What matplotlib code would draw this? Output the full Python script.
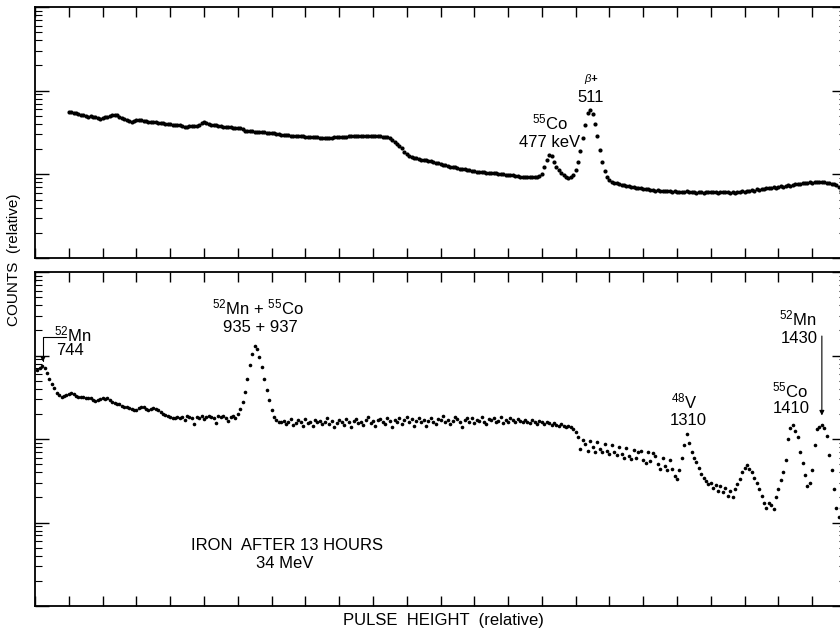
import numpy as np
import matplotlib
matplotlib.use("Agg")
import matplotlib.pyplot as plt
from matplotlib.ticker import FixedLocator, LogLocator, NullLocator, NullFormatter

plt.rcParams['font.family'] = ['Liberation Sans', 'DejaVu Sans']
plt.rcParams['mathtext.fontset'] = 'custom'
plt.rcParams['mathtext.rm'] = 'Liberation Sans'
plt.rcParams['mathtext.it'] = 'Liberation Sans:italic'
plt.rcParams['mathtext.bf'] = 'Liberation Sans:bold'

# pulse-height channels: 14 channels between x ticks, 336 across the frame
n_channels = 336
tick_step = 14

# upper spectrum, counts (relative) per channel starting at channel 14
upper_start = 14
upper_counts = [
    560, 552, 545, 540, 528, 516, 505, 498, 488, 492, 485, 478, 470, 462, 470, 480, 488, 500, 510, 516,
    505, 490, 475, 462, 450, 438, 425, 432, 445, 450, 442, 436, 430, 425, 428, 425, 420, 415, 410, 412,
    403, 400, 398, 394, 392, 388, 392, 380, 370, 372, 376, 380, 381, 378, 392, 410, 425, 415, 402, 392,
    388, 385, 380, 375, 370, 368, 366, 364, 362, 360, 360, 356, 345, 332, 330, 333, 328, 325, 323, 322,
    320, 318, 316, 314, 314, 310, 305, 300, 297, 295, 294, 292, 290, 289, 288, 289, 287, 285, 283, 281,
    282, 280, 278, 276, 274, 275, 273, 274, 272, 274, 276, 278, 280, 281, 282, 283, 285, 287, 289, 288,
    290, 289, 287, 289, 290, 288, 289, 287, 285, 284, 283, 282, 281, 270, 258, 245, 232, 220, 208, 186,
    175, 166, 162, 158, 155, 152, 150, 149, 148, 146, 143, 140, 138, 137, 134, 131, 128, 126, 124, 123,
    121, 119, 117, 116, 115, 113, 112, 111, 110, 108, 107, 107, 106, 105, 105, 104, 104, 103, 102, 101,
    100, 99, 99, 98, 97, 96, 95, 94, 93, 94, 93, 92, 93, 94, 93, 95, 100, 123, 149, 171,
    165, 140, 124, 112, 104, 98, 93, 90, 94, 99, 112, 140, 190, 275, 392, 540, 592, 520, 400, 285,
    195, 140, 110, 94, 86, 81, 79, 78, 76, 75, 74, 73, 72, 71, 70, 69, 69, 68, 67, 66,
    66, 65, 65, 64, 65, 64, 63, 64, 63, 63, 62, 63, 62, 62, 61, 62, 63, 62, 61, 61,
    60, 61, 62, 60, 61, 62, 61, 62, 61, 60, 62, 61, 62, 61, 60, 61, 60, 62, 61, 63,
    62, 64, 63, 65, 64, 66, 65, 67, 66, 68, 69, 68, 70, 69, 71, 72, 71, 73, 74, 73,
    75, 76, 77, 76, 78, 79, 78, 80, 79, 81, 80, 82, 81, 80, 79, 78, 77, 76, 74, 70, 64, 58, 56,
]

# lower spectrum (iron after 13 hours, 34 MeV), starting at channel 1
lower_start = 1
lower_counts = [
    6700, 7100, 7500, 7000, 6170, 5300, 4560, 4080, 3600, 3370, 3180, 3250, 3370, 3480, 3560, 3450, 3300, 3200, 3180, 3150,
    3120, 3100, 3080, 2950, 2850, 2900, 3000, 3100, 3050, 3100, 2950, 2800, 2700, 2630, 2600, 2500, 2450, 2420, 2350, 2280,
    2220, 2250, 2350, 2420, 2400, 2300, 2250, 2300, 2350, 2290, 2200, 2100, 2000, 1940, 1900, 1850, 1800, 1780, 1820, 1780,
    1850, 1700, 1880, 1820, 1760, 1500, 1840, 1800, 1870, 1750, 1830, 1900, 1850, 1790, 1550, 1860, 1820, 1900, 1780, 1650,
    1840, 1900, 1800, 2000, 2300, 2800, 3700, 5300, 7600, 10500, 13000, 12000, 9500, 7300, 5300, 3900, 2900, 2200, 1850, 1700,
    1620, 1580, 1650, 1520, 1600, 1720, 1480, 1560, 1690, 1600, 1450, 1750, 1540, 1620, 1420, 1700, 1580, 1660, 1500, 1600,
    1780, 1520, 1640, 1400, 1560, 1700, 1620, 1480, 1750, 1600, 1380, 1650, 1720, 1550, 1600, 1480, 1700, 1820, 1560, 1640,
    1450, 1680, 1750, 1600, 1520, 1800, 1650, 1400, 1700, 1620, 1760, 1500, 1680, 1850, 1600, 1720, 1450, 1650, 1780, 1580,
    1700, 1420, 1660, 1800, 1620, 1520, 1740, 1680, 1880, 1600, 1700, 1500, 1650, 1820, 1720, 1580, 1400, 1680, 1760, 1620,
    1800, 1560, 1700, 1640, 1850, 1600, 1500, 1720, 1680, 1780, 1600, 1650, 1820, 1550, 1700, 1620, 1760, 1680, 1600, 1740,
    1650, 1580, 1700, 1620, 1560, 1680, 1600, 1520, 1640, 1580, 1500, 1600, 1540, 1460, 1560, 1480, 1420, 1500, 1450, 1380,
    1440, 1400, 1320, 1200, 1050, 760, 980, 860, 720, 950, 800, 700, 920, 760, 700, 870, 720, 660, 850, 690,
    640, 810, 660, 600, 780, 620, 580, 740, 600, 700, 720, 560, 520, 690, 540, 680, 620, 500, 440, 600,
    480, 420, 560, 440, 360, 330, 420, 600, 850, 1150, 900, 700, 600, 530, 450, 380, 340, 310, 290, 300,
    260, 280, 240, 270, 230, 260, 210, 240, 200, 250, 290, 330, 400, 450, 490, 440, 400, 340, 300, 250,
    210, 170, 150, 170, 160, 145, 200, 250, 320, 400, 560, 1000, 1350, 1470, 1250, 1050, 700, 520, 370, 270,
    300, 430, 850, 1300, 1400, 1470, 1350, 1100, 650, 430, 250, 150, 116, 150, 200, 300,
]

upper_ch = np.arange(upper_start, upper_start + len(upper_counts))
lower_ch = np.arange(lower_start, lower_start + len(lower_counts))


def style_axes(ax, ylim):
    ax.set_yscale('log')
    ax.set_xlim(0, n_channels)
    ax.set_ylim(*ylim)
    ax.xaxis.set_major_locator(FixedLocator(np.arange(0, n_channels + 1, tick_step)))
    ax.xaxis.set_minor_locator(NullLocator())
    ax.yaxis.set_major_locator(LogLocator(base=10))
    ax.yaxis.set_minor_locator(LogLocator(base=10, subs=range(2, 10)))
    ax.yaxis.set_minor_formatter(NullFormatter())
    ax.tick_params(axis='x', which='major', direction='in', length=7, width=1,
                   top=True, bottom=True, labelbottom=False)
    ax.tick_params(axis='y', which='major', direction='in', length=10, width=1,
                   left=True, right=True, labelleft=False)
    ax.tick_params(axis='y', which='minor', direction='in', length=5, width=0.8,
                   left=True, right=True)
    for sp in ax.spines.values():
        sp.set_linewidth(1.3)


fig = plt.figure(figsize=(8.4, 6.3), dpi=100)
left = 35 / 840
width = (846 - 35) / 840
ax_top = fig.add_axes([left, 1 - 258 / 630, width, 251 / 630])
ax_bot = fig.add_axes([left, 1 - 606 / 630, width, 334 / 630])

style_axes(ax_top, (10, 1e4))
style_axes(ax_bot, (10, 1e5))

ax_top.plot(upper_ch, upper_counts, 'o', ms=3.0, mew=0, color='black')
ax_bot.plot(lower_ch, lower_counts, 'o', ms=2.6, mew=0, color='black')

lab = dict(fontsize=12, ha='center', va='baseline')

# upper panel labels
ax_top.text(230.7, 1280, r'$\beta$+', fontsize=8, fontweight='bold', style='italic',
            ha='center', va='baseline')
ax_top.text(230.3, 739, '511', **lab)
ax_top.text(213.3, 341, r'$^{\mathrm{55}}$Co', **lab)
ax_top.text(213, 213, '477 keV', **lab)

# lower panel labels
ax_bot.text(8.0, 14900, r'$^{\mathrm{52}}$Mn', fontsize=12, ha='left', va='baseline')
ax_bot.text(8.8, 10100, '744', fontsize=12, ha='left', va='baseline')
ax_bot.annotate('', xy=(3.3, lower_counts[3 - lower_start] * 1.12), xytext=(13, 16700),
                arrowprops=dict(arrowstyle='-|>', color='black', lw=0.8, mutation_scale=7,
                                shrinkA=0, shrinkB=0,
                                connectionstyle='angle,angleA=180,angleB=90,rad=0'))

ax_bot.text(92.2, 31400, r'$^{\mathrm{52}}$Mn + $^{\mathrm{55}}$Co', **lab)
ax_bot.text(93.2, 19100, '935 + 937', **lab)

ax_bot.text(269, 2350, r'$^{\mathrm{48}}$V', **lab)
ax_bot.text(270.5, 1470, '1310', **lab)

ax_bot.text(312.8, 3180, r'$^{\mathrm{55}}$Co', **lab)
ax_bot.text(313.2, 2050, '1410', **lab)

ax_bot.text(316, 23200, r'$^{\mathrm{52}}$Mn', **lab)
ax_bot.text(316.5, 14100, '1430', **lab)
ax_bot.annotate('', xy=(326, lower_counts[326 - lower_start] * 1.3), xytext=(326, 17100),
                arrowprops=dict(arrowstyle='-|>', color='black', lw=0.8, mutation_scale=7,
                                shrinkA=0, shrinkB=0))

fig.text(287 / 840, 1 - 545 / 630, 'IRON  AFTER 13 HOURS', fontsize=12,
         ha='center', va='center')
fig.text(285 / 840, 1 - 564 / 630, '34 MeV', fontsize=12,
         ha='center', va='center')
fig.text(443 / 840, 1 - 621 / 630, 'PULSE  HEIGHT  (relative)', fontsize=12,
         ha='center', va='center')
fig.text(14 / 840, 1 - 260 / 630, 'COUNTS  (relative)', fontsize=11, rotation=90,
         ha='center', va='center')

fig.savefig('out.png', dpi=100)
